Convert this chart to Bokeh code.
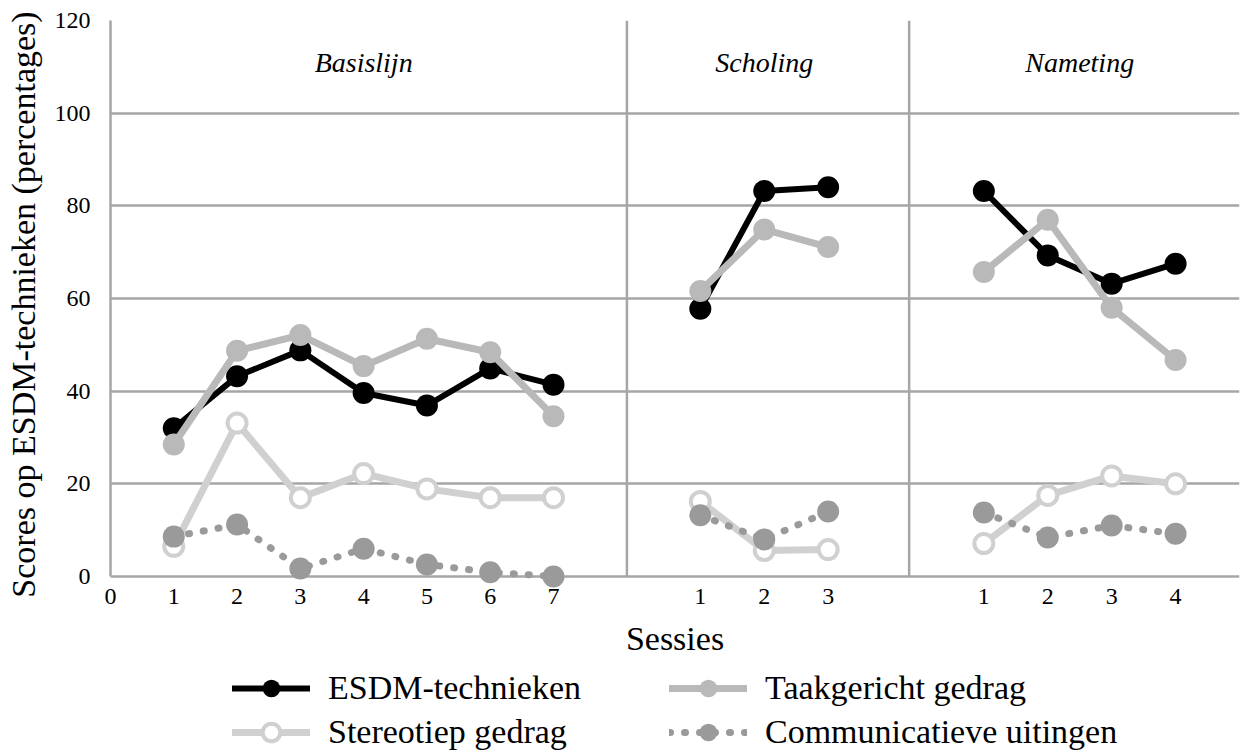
from bokeh.plotting import figure
from bokeh.layouts import column
from bokeh.models import FixedTicker, Legend, LegendItem
from bokeh.core.properties import value
from bokeh.embed import file_html
from bokeh.resources import INLINE

FONT = "Liberation Serif"

# ---- data ----
phase_names = ["Basislijn", "Scholing", "Nameting"]
base_sessions = [1, 2, 3, 4, 5, 6, 7]
school_sessions = [1, 2, 3]
post_sessions = [1, 2, 3, 4]
base_x = [1.0, 2.0, 3.0, 4.0, 5.0, 6.0, 7.0]
school_x = [9.32, 10.33, 11.34]
post_x = [13.80, 14.81, 15.82, 16.83]

esdm_base = [32.0, 43.2, 48.8, 39.6, 36.9, 44.9, 41.4]
esdm_school = [57.8, 83.2, 84.0]
esdm_post = [83.2, 69.3, 63.2, 67.5]

taak_base = [28.5, 48.7, 52.1, 45.4, 51.3, 48.4, 34.6]
taak_school = [61.6, 74.9, 71.1]
taak_post = [65.7, 77.0, 58.0, 46.7]

stereo_base = [6.5, 33.1, 17.0, 22.2, 18.9, 17.0, 17.0]
stereo_school = [16.2, 5.6, 5.8]
stereo_post = [7.1, 17.5, 21.7, 20.0]

comm_base = [8.6, 11.2, 1.7, 6.0, 2.6, 0.9, 0.0]
comm_school = [13.2, 8.0, 14.0]
comm_post = [13.8, 8.4, 11.0, 9.2]

series_names = ["ESDM-technieken", "Taakgericht gedrag", "Stereotiep gedrag", "Communicatieve uitingen"]
y_ticks = [0, 20, 40, 60, 80, 100, 120]

GRID = "#a6a6a6"

styles = [
    dict(color="#000000", lw=6, dash="solid", fill="#000000", lcolor="#000000", size=22, mlw=0),
    dict(color="#b8b9b8", lw=7, dash="solid", fill="#b8b9b8", lcolor="#b8b9b8", size=22, mlw=0),
    dict(color="#cfd0cf", lw=7, dash="solid", fill="white", lcolor="#cfd0cf", size=19, mlw=4),
    dict(color="#9a9a9a", lw=7, dash="1 14", fill="#9a9a9a", lcolor="#9a9a9a", size=22, mlw=0),
]
all_data = [
    [esdm_base, esdm_school, esdm_post],
    [taak_base, taak_school, taak_post],
    [stereo_base, stereo_school, stereo_post],
    [comm_base, comm_school, comm_post],
]

nan = float("nan")
xs_all = base_x + [nan] + school_x + [nan] + post_x
xs_pts = base_x + school_x + post_x

# y range starts a little below 0 so the markers at 0 are not cut; the 0 grid line acts as axis line
p = figure(width=1240, height=659, x_range=(0, 17.84), y_range=(-2.6, 120),
           output_backend="svg", toolbar_location=None,
           min_border_left=110, min_border_right=1, min_border_top=20,
           min_border_bottom=71)
p.outline_line_color = None
p.background_fill_color = "white"
p.border_fill_color = "white"

p.xgrid.visible = False
p.ygrid.grid_line_color = GRID
p.ygrid.grid_line_width = 2.5
p.ygrid.ticker = FixedTicker(ticks=y_ticks)

# separators between phases
sep1 = (base_x[-1] + school_x[0]) / 2
sep2 = (school_x[-1] + post_x[0]) / 2 + 0.05
p.segment(x0=[sep1, sep2], y0=[y_ticks[0]] * 2, x1=[sep1, sep2], y1=[y_ticks[-1]] * 2,
          line_color=GRID, line_width=2.5)

# y axis
p.yaxis.ticker = FixedTicker(ticks=y_ticks)
p.yaxis.bounds = (y_ticks[0], y_ticks[-1])
p.yaxis.axis_line_color = GRID
p.yaxis.axis_line_width = 2.5
p.yaxis.major_tick_line_color = None
p.yaxis.minor_tick_line_color = None
p.yaxis.major_tick_out = 0
p.yaxis.major_label_standoff = 20
p.yaxis.major_label_text_font = FONT
p.yaxis.major_label_text_font_size = "24px"
p.yaxis.major_label_text_color = "black"
p.yaxis.axis_label = "Scores op ESDM-technieken (percentages)"
p.yaxis.axis_label_text_font = FONT
p.yaxis.axis_label_text_font_size = "34px"
p.yaxis.axis_label_text_font_style = "normal"
p.yaxis.axis_label_text_color = "black"
p.yaxis.axis_label_standoff = 10

# x axis
ticks = [0.0] + xs_pts
labels = ["0"] + [str(s) for s in base_sessions + school_sessions + post_sessions]
p.xaxis.ticker = FixedTicker(ticks=ticks)
p.xaxis.major_label_overrides = {t: l for t, l in zip(ticks, labels)}
p.xaxis.axis_line_color = None
p.xaxis.major_tick_line_color = None
p.xaxis.minor_tick_line_color = None
p.xaxis.major_tick_out = 0
p.xaxis.major_label_standoff = 0
p.xaxis.major_label_text_font = FONT
p.xaxis.major_label_text_font_size = "24px"
p.xaxis.major_label_text_color = "black"
p.xaxis.axis_label = "Sessies"
p.xaxis.axis_label_text_font = FONT
p.xaxis.axis_label_text_font_size = "34px"
p.xaxis.axis_label_text_font_style = "normal"
p.xaxis.axis_label_text_color = "black"
p.xaxis.axis_label_standoff = 13

# phase titles
phase_x = [sum(base_x) / len(base_x), sum(school_x) / len(school_x), sum(post_x) / len(post_x)]
p.text(x=phase_x, y=[111] * 3, text=phase_names, text_font=value(FONT),
       text_font_style="italic", text_font_size="28px", text_align="center",
       text_baseline="middle", text_color="black")

def draw(fig, st, xl, yl, xp, yp):
    lr = fig.line(xl, yl, line_color=st["color"], line_width=st["lw"], line_dash=st["dash"],
                  line_cap="round", line_join="round")
    sr = fig.scatter(xp, yp, marker="circle", size=st["size"], fill_color=st["fill"],
                     line_color=st["lcolor"], line_width=st["mlw"])
    return [lr, sr]

for st, parts in zip(styles, all_data):
    ys_line = parts[0] + [nan] + parts[1] + [nan] + parts[2]
    ys_pts = parts[0] + parts[1] + parts[2]
    draw(p, st, xs_all, ys_line, xs_pts, ys_pts)

# legend figure below (its own renderers carry the same data but lie outside its ranges)
lg = figure(width=1240, height=93, x_range=(-200, -100), y_range=(-200, -100),
            output_backend="svg", toolbar_location=None,
            x_axis_type=None, y_axis_type=None, min_border=0)
lg.outline_line_color = None
lg.grid.visible = False
items = []
for name, st, parts in zip(series_names, styles, all_data):
    ys_line = parts[0] + [nan] + parts[1] + [nan] + parts[2]
    ys_pts = parts[0] + parts[1] + parts[2]
    rs = draw(lg, st, xs_all, ys_line, xs_pts, ys_pts)
    items.append(LegendItem(label=name, renderers=rs))
# row-wise: ESDM, Taak / Stereo, Comm
legend = Legend(items=items, orientation="horizontal", ncols=2, location=(122, -2))
legend.label_text_font = FONT
legend.label_text_font_size = "34px"
legend.label_text_color = "black"
legend.glyph_width = 78
legend.glyph_height = 44
legend.label_height = 44
legend.label_standoff = 18
legend.label_width = 341
legend.spacing = -2
legend.padding = 0
legend.margin = 0
legend.border_line_color = None
legend.background_fill_alpha = 0
lg.add_layout(legend)

layout = column(p, lg, spacing=0)
open("out.html", "w").write(file_html(layout, INLINE))
